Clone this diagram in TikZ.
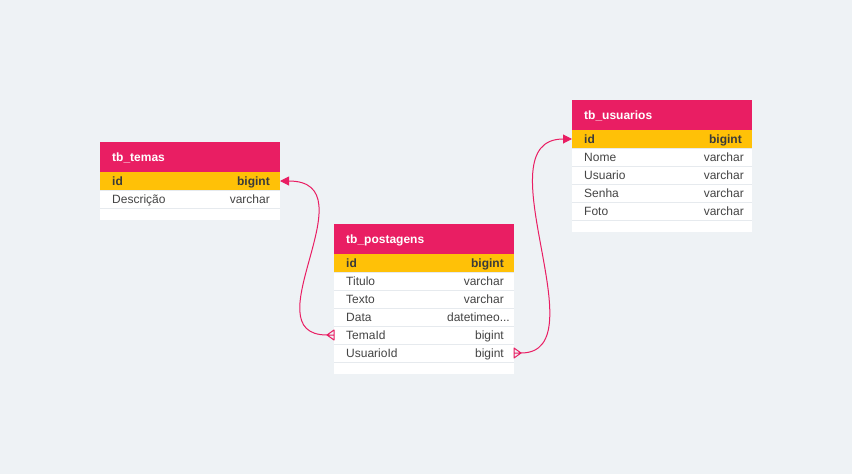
\documentclass[tikz,border=0pt]{standalone}
\usepackage{fontspec}
\setmainfont{Liberation Sans}
\usetikzlibrary{arrows.meta}
\definecolor{bgcol}{HTML}{EEF2F5}
\definecolor{headpink}{HTML}{E91E63}
\definecolor{keyamber}{HTML}{FFC107}
\definecolor{rowline}{HTML}{E6EAEE}
\definecolor{rowtext}{HTML}{444444}
\definecolor{keytext}{HTML}{3A3A3A}
\newcommand\dttrunc{datetimeo...}
\begin{document}
\begin{tikzpicture}[x=1pt, y=-1pt,
    headbox/.style={anchor=north west, minimum width=180pt, minimum height=30pt, inner sep=0pt, outer sep=0pt, fill=headpink},
    keybox/.style={anchor=north west, minimum width=180pt, minimum height=18pt, inner sep=0pt, outer sep=0pt, fill=keyamber},
    rowbox/.style={anchor=north west, minimum width=180pt, minimum height=18pt, inner sep=0pt, outer sep=0pt, fill=white},
    sep/.style={draw=rowline, line width=1pt},
    title/.style={anchor=west, text=white, inner sep=0pt, text height=8.6pt, text depth=0pt, font=\fontsize{12}{14}\selectfont\bfseries},
    field/.style={anchor=west, text=rowtext, inner sep=0pt, text height=8.6pt, text depth=0pt, font=\fontsize{12}{14}\selectfont},
    ftype/.style={anchor=east, text=rowtext, inner sep=0pt, text height=8.6pt, text depth=0pt, font=\fontsize{12}{14}\selectfont},
    keyfont/.style={text=keytext, font=\fontsize{12}{14}\selectfont\bfseries},
    rel/.style={draw=headpink, line width=1pt}]
  \fill[bgcol] (0,0) rectangle (852,474);

  % tb_temas
  \fill[white] (100,142) rectangle (280,220);
  \node[headbox] (temas) at (100,142) {};
  \node[title] (temas-t) at ([xshift=12pt]temas.west) {tb\_temas};
  \node[keybox] (temas-id) at (100,172) {};
  \node[field, keyfont] (temas-id-n) at ([xshift=12pt]temas-id.west) {id};
  \node[ftype, keyfont] (temas-id-k) at ([xshift=-10pt]temas-id.east) {bigint};
  \foreach \fname/\ftyp [count=\i] in {Descrição/varchar} {
    \node[rowbox] (temas-\i) at (100,{190+18*(\i-1)}) {};
    \draw[sep] (temas-\i.north west) -- (temas-\i.north east)
               (temas-\i.south west) -- (temas-\i.south east);
    \node[field] (temas-\i-n) at ([xshift=12pt]temas-\i.west) {\fname};
    \node[ftype] (temas-\i-k) at ([xshift=-10pt]temas-\i.east) {\ftyp};
  }

  % tb_postagens
  \fill[white] (334,224) rectangle (514,374);
  \node[headbox] (post) at (334,224) {};
  \node[title] (post-t) at ([xshift=12pt]post.west) {tb\_postagens};
  \node[keybox] (post-id) at (334,254) {};
  \node[field, keyfont] (post-id-n) at ([xshift=12pt]post-id.west) {id};
  \node[ftype, keyfont] (post-id-k) at ([xshift=-10pt]post-id.east) {bigint};
  \foreach \fname/\ftyp/\fpad [count=\i] in {Titulo/varchar/10, Texto/varchar/10, Data/\dttrunc/4, TemaId/bigint/10, UsuarioId/bigint/10} {
    \node[rowbox] (post-\i) at (334,{272+18*(\i-1)}) {};
    \draw[sep] (post-\i.north west) -- (post-\i.north east)
               (post-\i.south west) -- (post-\i.south east);
    \node[field] (post-\i-n) at ([xshift=12pt]post-\i.west) {\fname};
    \node[ftype] (post-\i-k) at ([xshift=-\fpad pt]post-\i.east) {\ftyp};
  }

  % tb_usuarios
  \fill[white] (572,100) rectangle (752,232);
  \node[headbox] (usr) at (572,100) {};
  \node[title] (usr-t) at ([xshift=12pt]usr.west) {tb\_usuarios};
  \node[keybox] (usr-id) at (572,130) {};
  \node[field, keyfont] (usr-id-n) at ([xshift=12pt]usr-id.west) {id};
  \node[ftype, keyfont] (usr-id-k) at ([xshift=-10pt]usr-id.east) {bigint};
  \foreach \fname/\ftyp [count=\i] in {Nome/varchar, Usuario/varchar, Senha/varchar, Foto/varchar} {
    \node[rowbox] (usr-\i) at (572,{148+18*(\i-1)}) {};
    \draw[sep] (usr-\i.north west) -- (usr-\i.north east)
               (usr-\i.south west) -- (usr-\i.south east);
    \node[field] (usr-\i-n) at ([xshift=12pt]usr-\i.west) {\fname};
    \node[ftype] (usr-\i-k) at ([xshift=-8pt]usr-\i.east) {\ftyp};
  }

  % relations (many side: crow's foot)
  \draw[rel, line join=round] ([yshift=5pt]post-4.west) -- ([xshift=-7pt]post-4.west) -- ([yshift=-5pt]post-4.west) -- cycle
    ([xshift=-7pt]post-4.west) -- (post-4.west);
  \draw[rel, -{Triangle[length=9pt, width=9pt]}] ([xshift=-7pt]post-4.west)
    .. controls +(-78,0) and +(92,0) .. (temas-id.east);

  \draw[rel, line join=round] ([yshift=5pt]post-5.east) -- ([xshift=7pt]post-5.east) -- ([yshift=-5pt]post-5.east) -- cycle
    ([xshift=7pt]post-5.east) -- (post-5.east);
  \draw[rel, -{Triangle[length=9pt, width=9pt]}] ([xshift=7pt]post-5.east)
    .. controls +(80,0) and +(-92,0) .. (usr-id.west);
\end{tikzpicture}
\end{document}
